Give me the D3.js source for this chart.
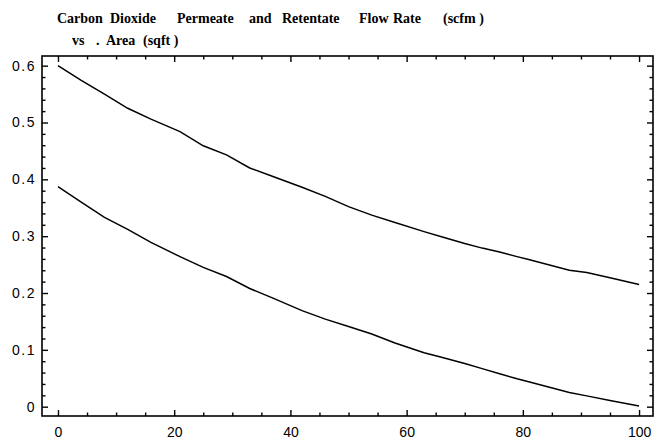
<!DOCTYPE html>
<html>
<head>
<meta charset="utf-8">
<script src="https://cdn.jsdelivr.net/npm/d3@7"></script>
<style>
  html, body { margin: 0; padding: 0; background: #fff; }
  svg { display: block; }
</style>
</head>
<body>
<svg id="chart" width="656" height="444"></svg>
<script>
// ---- data ----
const titleLine1 = ["Carbon", "Dioxide", "Permeate", "and", "Retentate", "Flow", "Rate", "(scfm )"];
const titleLine2 = ["vs", ".", "Area", "(sqft )"];
const area = [0, 4, 8, 12, 16, 21, 25, 29, 33, 37, 42, 46, 50, 54, 58, 63, 66, 70, 73, 76, 79, 81, 88, 91, 95, 100];
const upperFlow = [0.600, 0.574, 0.550, 0.525, 0.506, 0.484, 0.459, 0.443, 0.420, 0.405, 0.386, 0.370, 0.352, 0.337, 0.324, 0.308, 0.299, 0.287, 0.279, 0.272, 0.264, 0.259, 0.240, 0.236, 0.227, 0.215];
const lowerFlow = [0.387, 0.360, 0.333, 0.312, 0.289, 0.264, 0.245, 0.229, 0.208, 0.191, 0.169, 0.154, 0.141, 0.128, 0.112, 0.095, 0.087, 0.076, 0.067, 0.058, 0.049, 0.044, 0.025, 0.019, 0.011, 0.001];
const xTickValues = [0, 20, 40, 60, 80, 100];
const yTickValues = [0, 0.1, 0.2, 0.3, 0.4, 0.5, 0.6];
const xMinorTicks = [5, 10, 15, 25, 30, 35, 45, 50, 55, 65, 70, 75, 85, 90, 95];
const yMinorTicks = [0.02, 0.04, 0.06, 0.08, 0.12, 0.14, 0.16, 0.18, 0.22, 0.24, 0.26, 0.28, 0.32, 0.34, 0.36, 0.38, 0.42, 0.44, 0.46, 0.48, 0.52, 0.54, 0.56, 0.58];

(function () {
// ---- layout ----
const svg = d3.select("#chart");
const pL = 42, pR = 653, pT = 56, pB = 416;
const x = d3.scaleLinear().domain([-2.75, 102.4]).range([pL, pR]);
const y = d3.scaleLinear().domain([-0.0164, 0.617]).range([pB, pT]);

// title (word positions as in the reference's wide Mathematica spacing)
const tfont = "'Liberation Serif', 'DejaVu Serif', serif";
const line1X = [57, 110, 177, 249, 282, 359, 393, 443];
const line2X = [72, 96, 106, 143];
function titleLine(words, xs, yBase) {
  words.forEach((w, i) => svg.append("text").attr("x", xs[i]).attr("y", yBase)
    .attr("font-family", tfont).attr("font-size", 14).attr("font-weight", "bold").attr("fill", "#000")
    .style("white-space", "pre").text(w));
}
titleLine(titleLine1, line1X, 23);
titleLine(titleLine2, line2X, 45);

const lfont = "'Liberation Sans', Arial, sans-serif";

// inside ticks on all four sides, drawn with d3 axes
function styleTicks(s) {
  s.select(".domain").remove();
  s.selectAll(".tick line").attr("stroke", "#000").attr("stroke-width", 1.4);
}
// major ticks with labels
svg.append("g").attr("transform", `translate(0,${pB})`)
  .call(d3.axisBottom(x).tickValues(xTickValues).tickSizeInner(-6).tickSizeOuter(0).tickPadding(11).tickFormat(d3.format("d")))
  .call(styleTicks)
  .call(s => s.selectAll("text").attr("font-family", lfont).attr("font-size", 14).attr("fill", "#000"));
svg.append("g").attr("transform", `translate(${pL},0)`)
  .call(d3.axisLeft(y).tickValues(yTickValues).tickSizeInner(-6).tickSizeOuter(0).tickPadding(6)
    .tickFormat(d => d === 0 ? "0" : d3.format(".1f")(d)))
  .call(styleTicks)
  .call(s => s.selectAll("text").attr("font-family", lfont).attr("font-size", 14).attr("fill", "#000").attr("letter-spacing", 1.5));
svg.append("g").attr("transform", `translate(0,${pT})`)
  .call(d3.axisTop(x).tickValues(xTickValues).tickSizeInner(-6).tickSizeOuter(0).tickFormat(""))
  .call(styleTicks);
svg.append("g").attr("transform", `translate(${pR},0)`)
  .call(d3.axisRight(y).tickValues(yTickValues).tickSizeInner(-6).tickSizeOuter(0).tickFormat(""))
  .call(styleTicks);
// minor ticks
svg.append("g").attr("transform", `translate(0,${pB})`)
  .call(d3.axisBottom(x).tickValues(xMinorTicks).tickSizeInner(-3.5).tickSizeOuter(0).tickFormat(""))
  .call(styleTicks);
svg.append("g").attr("transform", `translate(0,${pT})`)
  .call(d3.axisTop(x).tickValues(xMinorTicks).tickSizeInner(-3.5).tickSizeOuter(0).tickFormat(""))
  .call(styleTicks);
svg.append("g").attr("transform", `translate(${pL},0)`)
  .call(d3.axisLeft(y).tickValues(yMinorTicks).tickSizeInner(-3.5).tickSizeOuter(0).tickFormat(""))
  .call(styleTicks);
svg.append("g").attr("transform", `translate(${pR},0)`)
  .call(d3.axisRight(y).tickValues(yMinorTicks).tickSizeInner(-3.5).tickSizeOuter(0).tickFormat(""))
  .call(styleTicks);

// frame
svg.append("rect").attr("x", pL).attr("y", pT).attr("width", pR - pL).attr("height", pB - pT)
  .attr("fill", "none").attr("stroke", "#000").attr("stroke-width", 1.6);

// curves
const line = d3.line().x((d, i) => x(area[i])).y(d => y(d));
[upperFlow, lowerFlow].forEach(series => {
  svg.append("path").datum(series).attr("d", line)
    .attr("fill", "none").attr("stroke", "#000").attr("stroke-width", 1.5);
});
})();
</script>
</body>
</html>
